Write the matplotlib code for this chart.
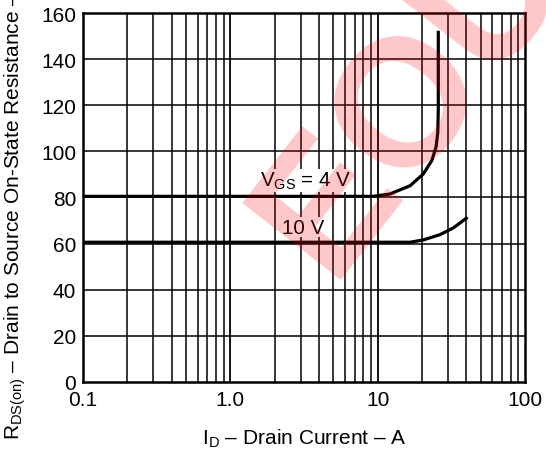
import matplotlib
matplotlib.use('Agg')
import matplotlib.pyplot as plt
import numpy as np

plt.rcParams['font.family'] = ['Liberation Sans', 'DejaVu Sans']
plt.rcParams['mathtext.fontset'] = 'custom'
plt.rcParams['mathtext.rm'] = 'Liberation Sans'

# drain current (A) vs on-state resistance (mOhm)
id_4v = [0.1, 1, 5, 9.3, 12.1, 16.6, 20.4, 23.3, 24.9, 25.6, 25.8, 25.8]
rds_4v = [80.5, 80.5, 80.5, 80.5, 81.5, 85.1, 90.2, 96.0, 101.8, 108.3, 118.4, 152.3]

id_10v = [0.1, 1, 10, 16.6, 20.4, 26.5, 32.6, 40.8]
rds_10v = [60.6, 60.6, 60.6, 60.6, 61.6, 63.9, 66.8, 71.4]

xticks = [0.1, 1, 10, 100]
xtick_labels = ['0.1', '1.0', '10', '100']
yticks = [0, 20, 40, 60, 80, 100, 120, 140, 160]

fig = plt.figure(figsize=(5.46, 4.52), dpi=100)
ax = fig.add_axes([0.152, 0.1527, 0.8095, 0.8163])

ax.set_xscale('log')
ax.set_xlim(0.1, 100)
ax.set_ylim(0, 160)

# grid on every log step
for dec in [0.1, 1, 10]:
    for k in range(2, 10):
        ax.axvline(dec * k, color='black', lw=1.1, zorder=1)
for v in [1, 10]:
    ax.axvline(v, color='black', lw=1.3, zorder=1)
for v in yticks[1:-1]:
    ax.axhline(v, color='black', lw=1.1, zorder=1)

ax.plot(id_4v, rds_4v, color='black', lw=2.3, zorder=3, solid_capstyle='butt')
ax.plot(id_10v, rds_10v, color='black', lw=2.3, zorder=3, solid_capstyle='butt')

ax.text(1.59, 87.3, r'V$_{\mathregular{GS}}$ = 4 V', fontsize=14.8, ha='left', va='center',
        zorder=4, bbox=dict(facecolor='white', edgecolor='none', pad=0.5))
ax.text(2.23, 67.1, '10 V', fontsize=14.8, ha='left', va='center',
        zorder=4, bbox=dict(facecolor='white', edgecolor='none', pad=0.5))

ax.set_xticks(xticks)
ax.set_xticklabels(xtick_labels)
ax.set_yticks(yticks)
ax.minorticks_off()
ax.tick_params(length=0, labelsize=15, pad=5)
ax.tick_params(axis='x', pad=6)
for s in ax.spines.values():
    s.set_linewidth(1.8)
    s.set_zorder(5)

ax.set_xlabel(r'I$_{\mathregular{D}}$ – Drain Current – A', fontsize=15, labelpad=12)
fig.text(15 / 546, 1 - 440 / 452,
         r'R$_{\mathregular{DS(on)}}$ – Drain to Source On-State Resistance – m$\Omega$',
         rotation=90, ha='center', va='bottom', fontsize=15)

# watermark
fig.text(0.755, 0.785, 'EOU', rotation=52, ha='center', va='center', fontsize=130,
         fontweight='bold', color='red', alpha=0.22, zorder=10)

fig.savefig('out.png', dpi=100)
